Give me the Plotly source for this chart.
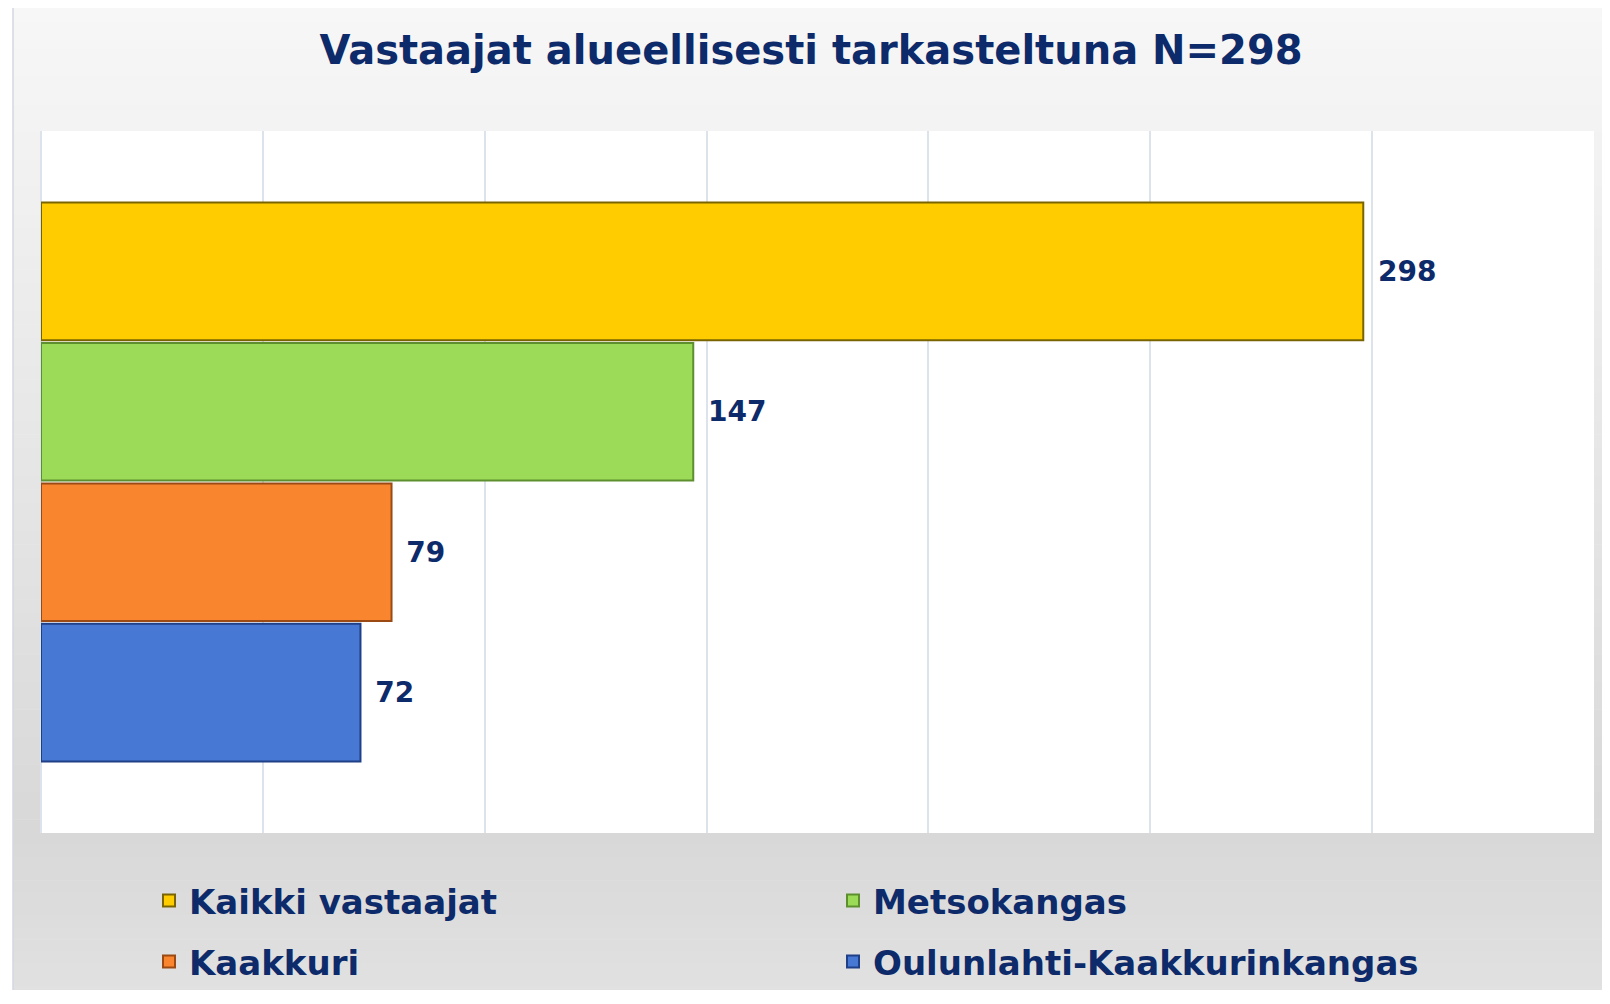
import plotly.graph_objects as go

# ---- data ----
categories = ["Kaikki vastaajat", "Metsokangas", "Kaakkuri", "Oulunlahti-Kaakkurinkangas"]
values = [298, 147, 79, 72]
group_label = ["Alue"]
title_text = "Vastaajat alueellisesti tarkasteltuna N=298"

# ---- styles ----
colors = ["#FFCC00", "#9BDB58", "#F9852E", "#4779D4"]
line_colors = ["#7A6400", "#5E8F2E", "#9A4A12", "#1F3F86"]
legend_ids = ["legend", "legend2", "legend3", "legend4"]
TEXT = "#0d2a6a"
FONT = "DejaVu Sans"

# page is rendered with an 8px body margin; work in page coordinates and convert
OFF = 8
W, H = 1610 - OFF, 1004 - 2 * OFF - 6
PL, PR, PT, PB = 41, 1594, 131, 833  # plot area in page coordinates
L, R, T, B = PL - OFF, (W + OFF) - PR, PT - OFF, (H + OFF) - PB
PW, PH = PR - PL, PB - PT


def px_x(p):
    return (p - PL) / PW


def px_y(p):
    return (PB - p) / PH


fig = go.Figure()
for name, v, c, lc, lg in zip(categories, values, colors, line_colors, legend_ids):
    fig.add_trace(go.Bar(
        y=group_label, x=[v], name=name, orientation="h",
        marker=dict(color=c, line=dict(color=lc, width=2)),
        texttemplate="\u2005\u2006%{x}", textposition="outside",
        textfont=dict(family=FONT, size=28, color=TEXT, weight="bold"),
        constraintext="none", cliponaxis=False, legend=lg,
    ))

# background gradient bands (styling only)
shapes = []


def lerp(c1, c2, t):
    return "rgb(%d,%d,%d)" % tuple(round(a + (b - a) * t) for a, b in zip(c1, c2))


def add_bands(p0, p1, c1, c2, n):
    step = (p1 - p0) / n
    for i in range(n):
        a = p0 + i * step
        b = a + step + 0.6
        shapes.append(dict(type="rect", xref="paper", yref="paper", layer="below",
                           x0=px_x(13), x1=px_x(1620), y0=px_y(a), y1=px_y(b),
                           fillcolor=lerp(c1, c2, (i + 0.5) / n), line=dict(width=0)))


add_bands(8, 833, (247, 247, 247), (216, 216, 216), 60)
add_bands(833, 1010, (216, 216, 216), (226, 226, 226), 15)
shapes.append(dict(type="rect", xref="paper", yref="paper", layer="below",
                   x0=px_x(13), x1=px_x(1625), y0=px_y(5), y1=px_y(1015),
                   fillcolor="rgba(0,0,0,0)", line=dict(color="#d3d9e1", width=1.5)))
shapes.append(dict(type="rect", xref="paper", yref="paper", layer="below",
                   x0=0, x1=1, y0=0, y1=1, fillcolor="white", line=dict(width=0)))

legend_pos = [(149, 901), (833, 901), (149, 962), (833, 962)]
legend_font = dict(family=FONT, size=34, color=TEXT, weight="bold")
legend_layout = {}
for lg, (lx, ly) in zip(legend_ids, legend_pos):
    legend_layout[lg] = dict(x=px_x(lx), y=px_y(ly), xanchor="left", yanchor="middle",
                             bgcolor="rgba(0,0,0,0)", font=legend_font,
                             orientation="h", borderwidth=0)

fig.update_layout(
    width=W, height=H,
    margin=dict(l=L, r=R, t=T, b=B, pad=0, autoexpand=False),
    paper_bgcolor="white", plot_bgcolor="rgba(0,0,0,0)",
    barmode="group", bargap=0.2, bargroupgap=0.02,
    title=dict(text=title_text, x=(811 - OFF) / W, y=1 - (50 - OFF) / H,
               xanchor="center", yanchor="middle", xref="container", yref="container",
               font=dict(family=FONT, size=40, color=TEXT, weight="bold")),
    xaxis=dict(range=[0, 350], dtick=50, tick0=0, showticklabels=False, showgrid=True,
               gridcolor="#dde3ea", gridwidth=1.5, zeroline=True, zerolinecolor="#dde3ea",
               zerolinewidth=1.5, showline=False, fixedrange=True),
    yaxis=dict(range=[0.5, -0.5], showticklabels=False, showgrid=False, zeroline=False,
               showline=False, fixedrange=True),
    shapes=shapes,
    showlegend=True,
    **legend_layout,
)

fig.write_html("out.html")
